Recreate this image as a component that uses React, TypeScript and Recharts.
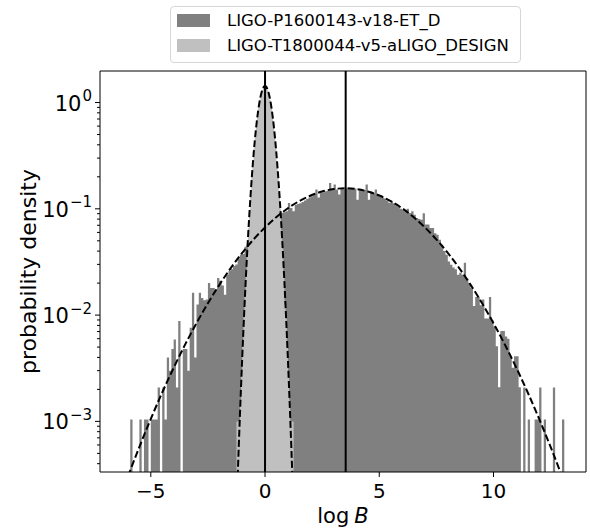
import React from 'react';
import { ComposedChart, Area, Line, XAxis, YAxis, ReferenceLine, Legend, Label } from 'recharts';

const seriesNames = ['LIGO-P1600143-v18-ET_D', 'LIGO-T1800044-v5-aLIGO_DESIGN'];
const seriesColors = ['#808080', '#c0c0c0'];

// dark histogram: bins of width 0.1 starting at -6.0
const darkBinStart = -6.0;
const darkBinWidth = 0.1;
const darkDensity = [
  0, 0.00104, 0, 0, 0, 0.00104, 0, 0.00104, 0.00104, 0,
  0.00104, 0.00104, 0.00104, 0.00208, 0, 0.00208, 0.00104, 0.004, 0.003, 0.0048,
  0.0059, 0.00208, 0.0088, 0, 0.0048, 0.0048, 0.003, 0.0076, 0.0162, 0.004,
  0.0126, 0.0162, 0.0145, 0.0138, 0.014, 0.02, 0.018, 0.018, 0.0175, 0.0223,
  0.021, 0.019, 0.0155, 0.024, 0.026, 0.027, 0.029, 0.03, 0.034, 0.037,
  0.0375, 0.044, 0.046, 0.048, 0.05, 0.053, 0.056, 0.059, 0.062, 0.065,
  0.0685, 0.0718, 0.0752, 0.0785, 0.082, 0.0855, 0.089, 0.092, 0.093, 0.0947,
  0.1135, 0.102, 0.0947, 0.1095, 0.111, 0.113, 0.116, 0.12, 0.124, 0.128,
  0.131, 0.136, 0.152, 0.128, 0.141, 0.143, 0.146, 0.148, 0.175, 0.15,
  0.169, 0.152, 0.136, 0.155, 0.153, 0.155, 0.156, 0.154, 0.157, 0.155,
  0.122, 0.15, 0.152, 0.15, 0.169, 0.122, 0.146, 0.141, 0.152, 0.136,
  0.13, 0.128, 0.125, 0.12, 0.114, 0.118, 0.113, 0.108, 0.104, 0.1,
  0.098, 0.095, 0.1, 0.0914, 0.0947, 0.088, 0.082, 0.08, 0.079, 0.091,
  0.071, 0.071, 0.066, 0.066, 0.059, 0.057, 0.0512, 0.0459, 0.04, 0.037,
  0.032, 0.0297, 0.028, 0.027, 0.024, 0.025, 0.024, 0.031, 0.022, 0.02,
  0.018, 0.0122, 0.0148, 0.0148, 0.0124, 0.014, 0.0093, 0.0093, 0.0148, 0.009,
  0.0078, 0.0051, 0.0021, 0.0071, 0.0071, 0.0063, 0.006, 0.0041, 0.0032, 0.0041,
  0.0041, 0.0021, 0, 0.00208, 0, 0.00104, 0, 0, 0.00104, 0.00104,
  0.00208, 0, 0.00104, 0, 0, 0, 0.00208, 0, 0, 0,
  0.00104,
];

// light histogram: bins of width 0.05 starting at -1.25
const lightBinStart = -1.25;
const lightBinWidth = 0.05;
const lightDensity = [
  0.001, 0.001, 0.001, 0.0016, 0.003, 0.005, 0.0095, 0.015, 0.0265, 0.04,
  0.066, 0.095, 0.145, 0.2, 0.285, 0.372, 0.498, 0.615, 0.772, 0.905,
  1.068, 1.185, 1.31, 1.375, 1.43,
  1.415, 1.39, 1.295, 1.2, 1.05, 0.92, 0.758, 0.63, 0.485, 0.382,
  0.276, 0.206, 0.14, 0.099, 0.063, 0.042, 0.0252, 0.0126, 0.0092, 0.005,
  0.0029, 0.0016, 0.001, 0.001, 0.001,
];

// fitted curves (dashed)
const darkFitX = [-6, -5.5, -5, -4.5, -4, -3.5, -3, -2.5, -2, -1.5, -1, -0.5, 0, 0.5, 1, 1.5, 2, 2.5, 3, 3.5,
  4, 4.5, 5, 5.5, 6, 6.5, 7, 7.5, 8, 8.5, 9, 9.5, 10, 10.5, 11, 11.5, 12, 12.5, 13];
const darkFitY = [3.04e-4, 5.76e-4, 0.001055, 0.00187, 0.00319, 0.00527, 0.0084, 0.01294, 0.01926, 0.0277,
  0.0385, 0.0516, 0.0668, 0.0837, 0.1012, 0.1183, 0.1335, 0.1455, 0.1533, 0.156,
  0.1533, 0.1455, 0.1335, 0.1183, 0.1012, 0.0837, 0.0668, 0.0516, 0.0385, 0.0277,
  0.01926, 0.01294, 0.0084, 0.00527, 0.00319, 0.00187, 0.001055, 5.76e-4, 3.04e-4];

const lightFitX = [-1.3, -1.25, -1.2, -1.15, -1.1, -1.05, -1, -0.95, -0.9, -0.85, -0.8, -0.75, -0.7, -0.65,
  -0.6, -0.55, -0.5, -0.45, -0.4, -0.35, -0.3, -0.25, -0.2, -0.15, -0.1, -0.05, 0,
  0.05, 0.1, 0.15, 0.2, 0.25, 0.3, 0.35, 0.4, 0.45, 0.5, 0.55, 0.6, 0.65, 0.7, 0.75, 0.8, 0.85,
  0.9, 0.95, 1, 1.05, 1.1, 1.15, 1.2, 1.25, 1.3];
const lightFitY = [6.6e-5, 1.41e-4, 2.9e-4, 5.81e-4, 0.001128, 0.00213, 0.0039, 0.00693, 0.01197, 0.02007,
  0.03266, 0.0516, 0.0792, 0.1179, 0.1705, 0.2395, 0.3266, 0.4322, 0.5555, 0.693, 0.84, 0.988, 1.128,
  1.251, 1.347, 1.408, 1.429,
  1.408, 1.347, 1.251, 1.128, 0.988, 0.84, 0.693, 0.5555, 0.4322, 0.3266, 0.2395, 0.1705, 0.1179,
  0.0792, 0.0516, 0.03266, 0.02007, 0.01197, 0.00693, 0.0039, 0.00213, 0.001128, 5.81e-4, 2.9e-4,
  1.41e-4, 6.6e-5];

const meanLines = [0, 3.53];

const xTicks = [-5, 0, 5, 10];
const xTickLabels = ['\u22125', '0', '5', '10'];
const yMajorTicks = [0.001, 0.01, 0.1, 1];
const yMajorExponents = ['\u22123', '\u22122', '\u22121', '0'];
const yMinorTicks = [
  0.0004, 0.0005, 0.0006, 0.0007, 0.0008, 0.0009,
  0.002, 0.003, 0.004, 0.005, 0.006, 0.007, 0.008, 0.009,
  0.02, 0.03, 0.04, 0.05, 0.06, 0.07, 0.08, 0.09,
  0.2, 0.3, 0.4, 0.5, 0.6, 0.7, 0.8, 0.9,
];

const X_DOMAIN: [number, number] = [-7.224, 14.05];
const Y_DOMAIN: [number, number] = [3.34e-4, 1.98];

const FONT = '"DejaVu Sans", sans-serif';

function histRows(start: number, width: number, values: number[]) {
  const rows = values.map((v, i) => ({ x: start + i * width, y: Math.max(v, Y_DOMAIN[0]) }));
  rows.push({ x: start + values.length * width, y: rows[rows.length - 1].y });
  return rows;
}

function curveRows(xs: number[], ys: number[]) {
  return xs.map((x, i) => ({ x, y: ys[i] }));
}

const XTick = (props: any) => {
  const { x, y, payload } = props;
  const i = xTicks.indexOf(payload.value);
  return (
    <text x={x} y={y + 16} textAnchor="middle" fontFamily={FONT} fontSize={20} fill="#000">
      {xTickLabels[i]}
    </text>
  );
};

const YTick = (props: any) => {
  const { x, y, payload } = props;
  const axisX = x + 8;
  const mi = yMajorTicks.indexOf(payload.value);
  if (mi < 0) {
    return <line x1={axisX} x2={axisX - 3} y1={y} y2={y} stroke="#000" strokeWidth={1} />;
  }
  return (
    <g>
      <line x1={axisX} x2={axisX - 5} y1={y} y2={y} stroke="#000" strokeWidth={1} />
      <text x={x} y={y + 8} textAnchor="end" fontFamily={FONT} fontSize={21} fill="#000">
        10<tspan dx={1} dy={-9.5} fontSize={15}>{yMajorExponents[mi]}</tspan>
      </text>
    </g>
  );
};

const XTitle = (props: any) => {
  const vb = props.viewBox || { x: 100, y: 472, width: 486, height: 59 };
  return (
    <text x={vb.x + vb.width / 2} y={vb.y + 51} textAnchor="middle" fontFamily={FONT} fontSize={21} fill="#000">
      log<tspan dx={5} fontStyle="italic">B</tspan>
    </text>
  );
};

const YTitle = (props: any) => {
  const vb = props.viewBox || { x: 0, y: 71, width: 100, height: 401 };
  const bx = vb.x + 36;
  const cy = vb.y + vb.height / 2;
  return (
    <text x={bx} y={cy} transform={`rotate(-90 ${bx} ${cy})`} textAnchor="middle" fontFamily={FONT} fontSize={22} fill="#000">
      probability density
    </text>
  );
};

const LegendBox = () => (
  <div
    style={{
      boxSizing: 'border-box',
      width: 351,
      height: 57,
      border: '1px solid #d6d6d6',
      borderRadius: 4,
      background: '#fff',
      position: 'relative',
      fontFamily: FONT,
      fontSize: 16.5,
      color: '#000',
    }}
  >
    {seriesNames.map((n, i) => (
      <div
        key={n}
        style={{ position: 'absolute', left: 6, top: 25 * i, height: 26, display: 'flex', alignItems: 'center', whiteSpace: 'nowrap' }}
      >
        <span style={{ display: 'inline-block', width: 33, height: 13, background: seriesColors[i] }} />
        <span style={{ marginLeft: 17, lineHeight: '17px' }}>{n}</span>
      </div>
    ))}
  </div>
);

export default function App() {
  const darkRows = histRows(darkBinStart, darkBinWidth, darkDensity);
  const lightRows = histRows(lightBinStart, lightBinWidth, lightDensity);
  const darkFit = curveRows(darkFitX, darkFitY);
  const lightFit = curveRows(lightFitX, lightFitY);
  const yTicks = [...yMinorTicks, ...yMajorTicks].sort((a, b) => a - b);

  return (
    <div style={{ position: 'absolute', left: 0, top: 0, width: 590, height: 531, background: '#fff' }}>
      <ComposedChart width={590} height={531} margin={{ top: 71, right: 4, bottom: 0, left: 0 }}>
        <XAxis
          type="number"
          dataKey="x"
          domain={X_DOMAIN}
          allowDataOverflow
          ticks={xTicks}
          interval={0}
          height={59}
          tickSize={5}
          tickMargin={5}
          tick={(p: any) => <XTick {...p} />}
          axisLine={{ stroke: '#000', strokeWidth: 1 }}
          tickLine={{ stroke: '#000', strokeWidth: 1 }}
        >
          <Label content={(p: any) => <XTitle {...p} />} />
        </XAxis>
        <YAxis
          type="number"
          scale="log"
          domain={Y_DOMAIN}
          allowDataOverflow
          ticks={yTicks}
          interval={0}
          width={100}
          tickSize={5}
          tickMargin={3}
          tickLine={false}
          tick={(p: any) => <YTick {...p} />}
          axisLine={{ stroke: '#000', strokeWidth: 1 }}
        >
          <Label content={(p: any) => <YTitle {...p} />} />
        </YAxis>
        <Legend
          layout="vertical"
          align="center"
          verticalAlign="middle"
          wrapperStyle={{ left: 170, top: 6, width: 351 }}
          content={() => <LegendBox />}
        />
        <Area
          data={darkRows}
          dataKey="y"
          name={seriesNames[0]}
          type="stepAfter"
          stroke="none"
          fill={seriesColors[0]}
          fillOpacity={1}
          baseValue={Y_DOMAIN[0]}
          dot={false}
          activeDot={false}
          isAnimationActive={false}
        />
        <Area
          data={lightRows}
          dataKey="y"
          name={seriesNames[1]}
          type="stepAfter"
          stroke="none"
          fill={seriesColors[1]}
          fillOpacity={1}
          baseValue={Y_DOMAIN[0]}
          dot={false}
          activeDot={false}
          isAnimationActive={false}
        />
        <Line
          data={darkFit}
          dataKey="y"
          type="monotone"
          stroke="#000"
          strokeWidth={2}
          strokeDasharray="7 3"
          dot={false}
          activeDot={false}
          legendType="none"
          isAnimationActive={false}
        />
        <Line
          data={lightFit}
          dataKey="y"
          type="monotone"
          stroke="#000"
          strokeWidth={2}
          strokeDasharray="7 3"
          dot={false}
          activeDot={false}
          legendType="none"
          isAnimationActive={false}
        />
        {meanLines.map((v) => (
          <ReferenceLine key={v} x={v} stroke="#000" strokeWidth={2} />
        ))}
        <ReferenceLine y={Y_DOMAIN[1]} stroke="#000" strokeWidth={1} />
        <ReferenceLine x={X_DOMAIN[1]} stroke="#000" strokeWidth={1} />
      </ComposedChart>
    </div>
  );
}
